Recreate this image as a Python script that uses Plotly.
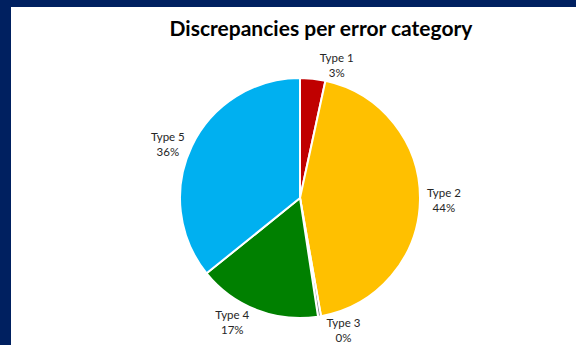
import plotly.graph_objects as go

categories = ["Type 1", "Type 2", "Type 3", "Type 4", "Type 5"]
values = [3.4, 43.8, 0.4, 16.6, 35.8]
colors = ["#C00000", "#FFC000", "#7F7F7F", "#008000", "#00B0F0"]

W, H = 576, 345
cx, cy, r = 300, 198, 120

fig = go.Figure(go.Pie(
    labels=categories,
    values=values,
    sort=False,
    direction="clockwise",
    rotation=0,
    marker=dict(colors=colors, line=dict(color="white", width=2)),
    textposition="outside",
    texttemplate="%{label}<br>%{percent:.0%}",
    textfont=dict(family="Lato", size=11.5, color="#262626"),
    showlegend=False,
    domain=dict(x=[(cx - r) / W, (cx + r) / W], y=[(H - cy - r) / H, (H - cy + r) / H]),
    automargin=False,
))

fig.update_layout(
    width=W, height=H,
    margin=dict(l=0, r=0, t=0, b=0),
    paper_bgcolor="white",
    title=dict(text="<b>Discrepancies per error category</b>", x=321 / W, xanchor="center",
               y=1 - 29 / H, yanchor="middle",
               font=dict(family="Lato", size=21, color="black")),
    shapes=[
        dict(type="rect", xref="paper", yref="paper", x0=0, x1=11 / W, y0=0, y1=1,
             fillcolor="#002060", line=dict(width=0), layer="above"),
        dict(type="rect", xref="paper", yref="paper", x0=0, x1=1, y0=1 - 7 / H, y1=1,
             fillcolor="#002060", line=dict(width=0), layer="above"),
    ],
)

fig.write_html("out.html",
               config={"displayModeBar": False},
               post_script="document.body.style.margin='0';document.body.style.overflow='hidden';")
